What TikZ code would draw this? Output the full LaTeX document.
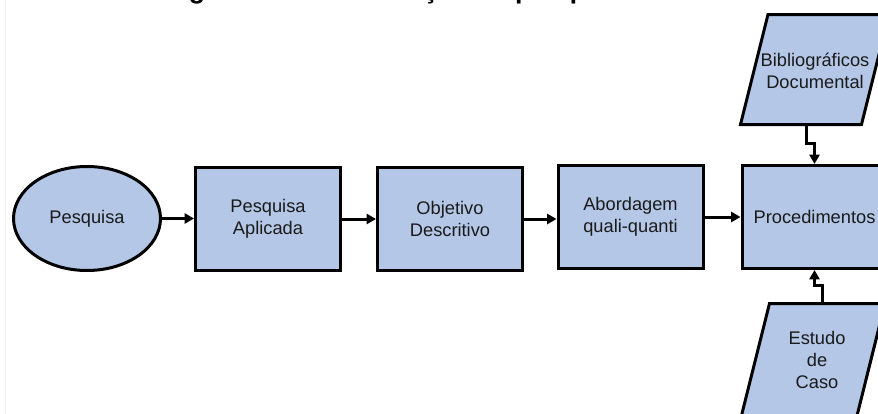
\documentclass[tikz,border=0pt]{standalone}
\usepackage{fontspec}
\setmainfont{Liberation Sans}
\usetikzlibrary{arrows.meta,shapes.geometric}
\definecolor{boxfill}{HTML}{B4C7E7}
\definecolor{inkgray}{HTML}{1A1A1A}
\begin{document}
\begin{tikzpicture}[x=0.75pt,y=-0.75pt,
  shapeline/.style={draw=black,line width=2.25pt,fill=boxfill},
  txt/.style={text=inkgray,font=\fontsize{13.7}{16.5}\selectfont,align=center},
  stepbox/.style={shapeline,txt,rectangle,minimum width=108.75pt,minimum height=77.25pt,inner sep=0pt},
  startoval/.style={shapeline,txt,ellipse,minimum width=110.25pt,minimum height=78pt,inner sep=0pt},
  link/.style={draw=black,line width=2.25pt,-{Triangle[length=7pt,width=7.5pt]}}]
\useasboundingbox (0,0) rectangle (878,414);
\clip (0,0) rectangle (878,414);
\fill[white] (0,0) rectangle (878,414);

% faint page edge
\draw[gray!12,line width=0.9pt] (5.7,0) -- (5.7,414);

% heading (only its lowest part lies inside the frame)
\node[anchor=base west,inner sep=0pt,font=\bfseries\fontsize{20}{24}\selectfont] (title)
  at (165,-1.6) {Figura 2 – Classificação da pesquisa};

% main chain
\node[startoval] (pesq) at (87,218.5) {Pesquisa};
\node[stepbox] (aplic) at (268,219) {Pesquisa\\Aplicada};
\node[stepbox] (objet) at (450,219) {Objetivo\\Descritivo};
\node[stepbox] (abord) at (630.5,217) {Abordagem\\quali-quanti};
\node[stepbox] (proc) at (814.5,217) {Procedimentos};

\draw[link] (pesq.east) -- (pesq.east -| aplic.west);
\draw[link] (aplic) -- (objet);
\draw[link] (objet.east) -- (objet.east -| abord.west);
\draw[link] (abord) -- (proc);

% input parallelograms
\path[shapeline] (740.5,124.5) -- (768,14.5) -- (889,14.5) -- (861.5,124.5) -- cycle;
\node[txt] (biblio) at (815,71) {Bibliográficos\\Documental};
\coordinate (bibfoot) at (806,124.5);

\path[shapeline] (741.25,416.5) -- (769.5,303.5) -- (885,303.5) -- (856.8,416.5) -- cycle;
\node[txt] (caso) at (817,360) {Estudo\\de\\Caso};
\coordinate (casotop) at (822,303.5);

\draw[link] (bibfoot) -- ++(0,18.5) -| (proc.north);
\draw[link] (casotop) -- ++(0,-18.5) -| (proc.south);
\end{tikzpicture}
\end{document}
